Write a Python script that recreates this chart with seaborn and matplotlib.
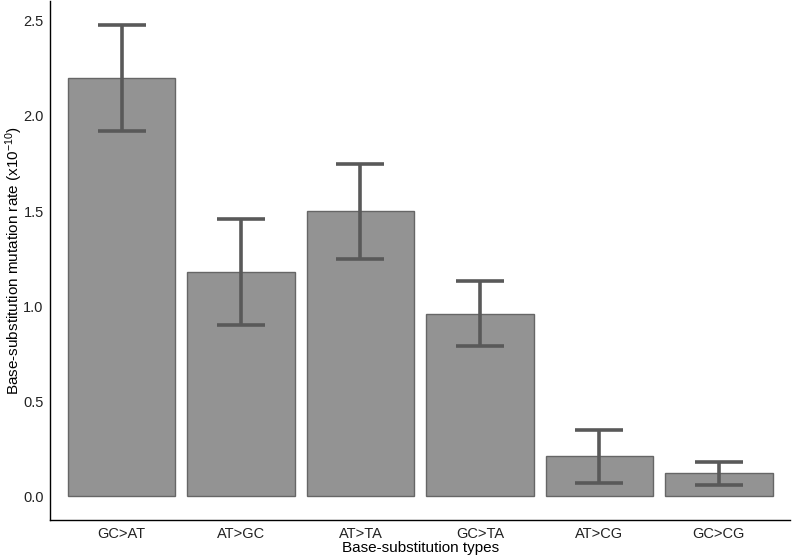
import numpy as np
import pandas as pd
import matplotlib
matplotlib.use("Agg")
import matplotlib.pyplot as plt
import seaborn as sns

# values
types = ["GC>AT", "AT>GC", "AT>TA", "GC>TA", "AT>CG", "GC>CG"]
rate = [2.20, 1.18, 1.50, 0.96, 0.21, 0.12]
err_low = [1.92, 0.90, 1.25, 0.79, 0.07, 0.06]
err_high = [2.48, 1.46, 1.75, 1.13, 0.35, 0.18]

df = pd.DataFrame({"type": types, "rate": rate, "lo": err_low, "hi": err_high})

sns.set_style("white")
plt.rcParams["font.family"] = ["Liberation Sans", "DejaVu Sans"]
plt.rcParams["mathtext.default"] = "regular"

fig = plt.figure(figsize=(7.92, 5.56), dpi=100)
ax = fig.add_axes([0.063, 0.065, 0.935, 0.933])

sns.barplot(data=df, x="type", y="rate", color="#939393", saturation=1,
            edgecolor="#666666", linewidth=1, width=0.9, ax=ax)

# error bars
yerr = [df["rate"] - df["lo"], df["hi"] - df["rate"]]
ax.errorbar(x=np.arange(len(df)), y=df["rate"], yerr=yerr, fmt="none",
            ecolor="#595959", elinewidth=2.6, capsize=17, capthick=2.6)

ax.set_xlim(-0.6, 5.6)
ax.set_ylim(-0.124, 2.604)
ax.set_yticks([0.0, 0.5, 1.0, 1.5, 2.0, 2.5])
ax.set_yticklabels(["0.0", "0.5", "1.0", "1.5", "2.0", "2.5"])

ax.set_xlabel("Base-substitution types", fontsize=11, color="black", labelpad=0.5)
ax.set_ylabel("Base-substitution mutation rate (x10$^{-10}$)", fontsize=11,
              color="black", labelpad=-1.5)

for s in ["top", "right"]:
    ax.spines[s].set_visible(False)
for s in ["left", "bottom"]:
    ax.spines[s].set_color("black")
    ax.spines[s].set_linewidth(1.0)

ax.tick_params(axis="both", length=3.5, width=0.8, color="#333333",
               labelsize=10.5, labelcolor="#222222", direction="out", pad=1.5)
ax.tick_params(axis="y", pad=1)

fig.savefig("out.png", dpi=100)
